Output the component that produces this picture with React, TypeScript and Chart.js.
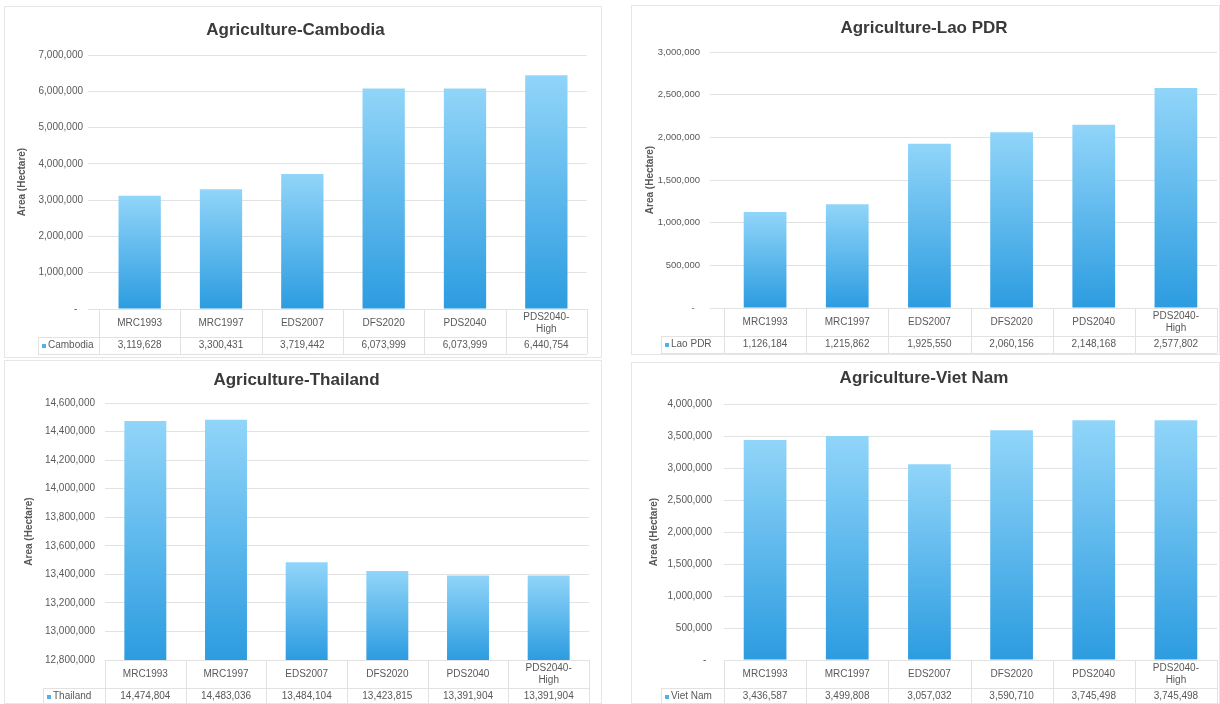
import React, { useEffect, useRef } from 'react';
import { Chart, registerables } from 'chart.js';

Chart.register(...registerables);

// ---------- data ----------
const categories = ['MRC1993', 'MRC1997', 'EDS2007', 'DFS2020', 'PDS2040', 'PDS2040-High'];
const categoryLines = [['MRC1993'], ['MRC1997'], ['EDS2007'], ['DFS2020'], ['PDS2040'], ['PDS2040-', 'High']];

const cambodiaValues = [3119628, 3300431, 3719442, 6073999, 6073999, 6440754];
const laoValues = [1126184, 1215862, 1925550, 2060156, 2148168, 2577802];
const thailandValues = [14474804, 14483036, 13484104, 13423815, 13391904, 13391904];
const vietNamValues = [3436587, 3499808, 3057032, 3590710, 3745498, 3745498];

const cambodiaAxis = [0, 7000000, 1000000];
const laoAxis = [0, 3000000, 500000];
const thailandAxis = [12800000, 14600000, 200000];
const vietNamAxis = [0, 4000000, 500000];

const FONT = "'Liberation Sans', Arial, sans-serif";
const TEXT = '#595959';
const GRID = '#e2e2e2';

const fmt = (v: number) => Number(v).toLocaleString('en-US');

const tablePlugin = {
  id: 'dataTable',
  afterDraw(chart: any, _args: any, opts: any) {
    const { ctx, chartArea } = chart;
    const xs = chart.scales.x;
    const n = chart.data.labels.length;
    const step = xs.getPixelForValue(1) - xs.getPixelForValue(0);
    const left = xs.getPixelForValue(0) - step / 2;
    const right = xs.getPixelForValue(n - 1) + step / 2;
    const top = Math.round(chartArea.bottom);
    const sep = top + 28;
    const bottom = top + 45;
    const lx = opts.legendX;
    ctx.save();
    ctx.strokeStyle = GRID;
    ctx.lineWidth = 1;
    const hline = (x1: number, x2: number, y: number) => {
      ctx.beginPath();
      ctx.moveTo(x1, Math.round(y) + 0.5);
      ctx.lineTo(x2, Math.round(y) + 0.5);
      ctx.stroke();
    };
    const vline = (x: number, y1: number, y2: number) => {
      ctx.beginPath();
      ctx.moveTo(Math.round(x) + 0.5, y1);
      ctx.lineTo(Math.round(x) + 0.5, y2);
      ctx.stroke();
    };
    hline(left, right, top);
    hline(lx - 4, right, sep);
    hline(lx - 4, right, bottom);
    for (let i = 0; i <= n; i++) vline(left + i * step, top, bottom);
    vline(lx - 4, sep, bottom);

    ctx.fillStyle = TEXT;
    ctx.font = `10px ${FONT}`;
    ctx.textAlign = 'center';
    ctx.textBaseline = 'middle';
    for (let i = 0; i < n; i++) {
      const cx = xs.getPixelForValue(i);
      const lines = opts.labels[i];
      lines.forEach((t: string, j: number) => {
        const y = top + 14 + (j - (lines.length - 1) / 2) * 12;
        ctx.fillText(t, cx, y);
      });
      ctx.fillText(fmt(opts.values[i]), cx, top + 36.5);
    }
    // legend key
    ctx.fillStyle = '#4fb2ea';
    ctx.fillRect(lx, top + 35, 4, 4);
    ctx.fillStyle = TEXT;
    ctx.textAlign = 'left';
    ctx.fillText(opts.name, lx + 6, top + 36.5);
    ctx.restore();
  },
};

type PanelProps = {
  title: string;
  name: string;
  values: number[];
  axis: number[];
  left: number;
  top: number;
  width: number;
  height: number;
  chartLeft: number;
  chartRight: number;
  chartTop: number;
  chartBottom: number;
  titleY: number;
  titleSize: number;
  tickLength: number;
  tickPadding: number;
  tickFont: number;
  axisTitleX: number;
  legendX: number;
};

function Panel(p: PanelProps) {
  const ref = useRef<HTMLCanvasElement | null>(null);
  useEffect(() => {
    if (!ref.current) return;
    const lh = p.titleSize * 1.2;
    const titleTop = p.titleY - lh / 2;
    const titleBottom = p.chartTop - titleTop - lh;
    const chart = new Chart(ref.current, {
      type: 'bar',
      data: {
        labels: categories,
        datasets: [
          {
            label: p.name,
            data: p.values,
            barPercentage: 0.52,
            categoryPercentage: 1,
            borderWidth: 0,
            backgroundColor: (c: any) => {
              const ch = c.chart;
              const ys = ch.scales && ch.scales.y;
              if (!ys || c.type !== 'data') return '#5bb8ee';
              const t = ys.getPixelForValue(c.raw);
              const b = ys.getBasePixel();
              if (!isFinite(t) || !isFinite(b) || t === b) return '#5bb8ee';
              const g = ch.ctx.createLinearGradient(0, t, 0, b);
              g.addColorStop(0, '#91d5f9');
              g.addColorStop(1, '#2c9ce0');
              return g;
            },
          },
        ],
      },
      options: {
        responsive: false,
        animation: false,
        devicePixelRatio: 1,
        layout: {
          padding: { left: 0, top: 0, right: p.width - p.chartRight, bottom: p.height - p.chartBottom },
        },
        plugins: {
          legend: { display: false },
          tooltip: { enabled: false },
          title: {
            display: true,
            text: p.title,
            color: '#3a3a3a',
            font: { family: FONT, size: p.titleSize, weight: 'bold' },
            padding: { top: titleTop, bottom: titleBottom },
          },
          dataTable: { values: p.values, labels: categoryLines, name: p.name, legendX: p.legendX },
        } as any,
        scales: {
          x: { display: false },
          y: {
            min: p.axis[0],
            max: p.axis[1],
            border: { display: false },
            grid: {
              color: GRID,
              drawTicks: p.tickLength > 0,
              tickLength: p.tickLength,
              tickColor: GRID,
            },
            ticks: {
              stepSize: p.axis[2],
              color: TEXT,
              font: { family: FONT, size: p.tickFont },
              padding: p.tickPadding,
              callback: (v: any) => (Number(v) === 0 ? '-  ' : fmt(Number(v))),
            },
            title: {
              display: true,
              text: 'Area (Hectare)',
              color: TEXT,
              font: { family: FONT, size: 10, weight: 'bold' },
              padding: { top: p.axisTitleX - 6, bottom: 0 },
            },
            afterFit: (s: any) => {
              s.width = p.chartLeft;
            },
          },
        },
      },
      plugins: [tablePlugin],
    } as any);
    return () => chart.destroy();
  }, []);
  return (
    <div
      style={{
        position: 'absolute',
        left: p.left,
        top: p.top,
        width: p.width,
        height: p.height,
        background: '#fff',
        outline: '1px solid #e6e6e6',
        outlineOffset: -1,
        overflow: 'hidden',
      }}
    >
      <canvas ref={ref} width={p.width} height={p.height} style={{ display: 'block' }} />
    </div>
  );
}

export default function App() {
  return (
    <div style={{ position: 'absolute', left: 0, top: 0, width: 1220, height: 704, background: '#fff', overflow: 'hidden' }}>
      <Panel
        title="Agriculture-Cambodia"
        name="Cambodia"
        values={cambodiaValues}
        axis={cambodiaAxis}
        left={4}
        top={6}
        width={598}
        height={352}
        chartLeft={95}
        chartRight={583}
        chartTop={49}
        chartBottom={303}
        titleY={24}
        titleSize={17}
        tickLength={11}
        tickPadding={5}
        tickFont={10}
        axisTitleX={18}
        legendX={38}
      />
      <Panel
        title="Agriculture-Lao PDR"
        name="Lao PDR"
        values={laoValues}
        axis={laoAxis}
        left={631}
        top={5}
        width={589}
        height={350}
        chartLeft={93}
        chartRight={586}
        chartTop={47}
        chartBottom={303}
        titleY={23}
        titleSize={17}
        tickLength={14}
        tickPadding={10}
        tickFont={9.5}
        axisTitleX={19}
        legendX={34}
      />
      <Panel
        title="Agriculture-Thailand"
        name="Thailand"
        values={thailandValues}
        axis={thailandAxis}
        left={4}
        top={360}
        width={598}
        height={344}
        chartLeft={101}
        chartRight={585}
        chartTop={43}
        chartBottom={300}
        titleY={20}
        titleSize={17}
        tickLength={0}
        tickPadding={10}
        tickFont={10}
        axisTitleX={25}
        legendX={43}
      />
      <Panel
        title="Agriculture-Viet Nam"
        name="Viet Nam"
        values={vietNamValues}
        axis={vietNamAxis}
        left={631}
        top={362}
        width={589}
        height={342}
        chartLeft={93}
        chartRight={586}
        chartTop={42}
        chartBottom={298}
        titleY={16}
        titleSize={17}
        tickLength={0}
        tickPadding={12}
        tickFont={10}
        axisTitleX={23}
        legendX={34}
      />
    </div>
  );
}
